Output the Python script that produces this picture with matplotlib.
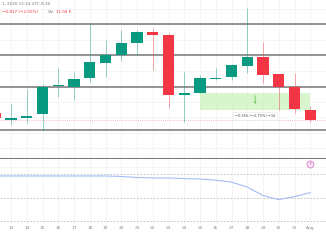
import numpy as np
import matplotlib.pyplot as plt
from matplotlib.patches import Rectangle

# daily candles, day of month (32 = Aug 1)
days = [12, 13, 14, 15, 16, 17, 18, 19, 20, 21, 22, 23, 24, 25, 26, 27, 28, 29, 30, 31, 32]
opens = [17.57, 17.30, 17.38, 17.53, 18.60, 18.57, 18.92, 19.50, 19.81, 20.27, 20.69,
         20.58, 18.28, 18.34, 18.88, 18.96, 19.38, 19.73, 19.07, 18.57, 17.68]
highs = [17.68, 17.92, 18.49, 18.69, 19.31, 19.15, 21.00, 20.39, 20.77, 20.77, 20.85,
         20.66, 19.15, 19.04, 19.31, 19.46, 21.62, 20.31, 19.07, 19.11, 17.84]
lows = [17.26, 17.10, 17.18, 16.91, 18.19, 18.07, 18.76, 18.96, 19.58, 19.81, 19.23,
        17.76, 17.22, 18.34, 18.84, 18.84, 19.11, 18.73, 17.68, 17.57, 17.22]
closes = [17.38, 17.38, 17.45, 18.57, 18.62, 18.88, 19.54, 19.81, 20.27, 20.69, 20.58,
          18.26, 18.30, 18.92, 18.92, 19.42, 19.73, 19.04, 18.57, 17.72, 17.30]

levels = [21.00, 19.81, 18.57, 16.91]
last_price = 17.30
box_days = (25, 32)
box_prices = (17.68, 18.34)

ind_days = [12, 13, 19, 20, 21, 22, 23, 24, 25, 26, 27, 28, 29, 30, 31, 32]
ind_vals = [68.3, 68.3, 68.3, 67.9, 67.0, 66.6, 66.6, 66.1, 65.7, 64.8, 63.1, 58.9,
            51.7, 48.3, 50.8, 54.2]
ind_levels = [70, 50, 30]

tick_days = list(range(13, 33))
tick_labels = [str(d) for d in range(13, 32)] + ['Aug']

green = '#089981'
red = '#f23645'

W, H = 326, 245
fig = plt.figure(figsize=(3.26, 2.45), dpi=100)
ax = fig.add_axes([0, (H - 159) / H, 1, 159 / H])
ax2 = fig.add_axes([0, (H - 224) / H, 1, 65 / H])

xlim = (12.30, 33.0)
for a in (ax, ax2):
    a.set_xlim(*xlim)
    for s in ['top', 'left', 'right']:
        a.spines[s].set_visible(False)
    for d in tick_days:
        a.axvline(d, color='#f2f2f2', lw=0.6, zorder=0)

ax.set_ylim(15.79, 21.93)
for p in np.arange(16.2, 21.9, 0.6):
    ax.axhline(p, color='#f4f4f4', lw=0.6, zorder=0)
ax.spines['bottom'].set_color('#7a7a7a')
ax.spines['bottom'].set_linewidth(1.5)
ax.set_xticks([])
ax.set_yticks([])

for lv in levels:
    ax.axhline(lv, color='#8a8a8a', lw=1.3, zorder=1)
ax.axhline(last_price, color='#f5a0aa', lw=0.6, ls=(0, (1, 1.5)), zorder=1)

ax.add_patch(Rectangle((box_days[0], box_prices[0]), box_days[1] - box_days[0],
                       box_prices[1] - box_prices[0], facecolor='#c9f2b8',
                       edgecolor='none', alpha=0.7, zorder=1))
ax.annotate('', xy=(28.5, box_prices[0] + 0.12), xytext=(28.5, box_prices[1]),
            arrowprops=dict(arrowstyle='->', color='#6fcf5c', lw=0.7, mutation_scale=3),
            zorder=2)
ax.text(28.5, 17.45, '\u22120.656 (\u22123.79%) \u221216', fontsize=2.6, color='#555555',
        ha='center', va='center', zorder=4,
        bbox=dict(boxstyle='square,pad=0.6', fc='white', ec='#e6e6e6', lw=0.4))

bw = 0.72
for d, o, h, l, c in zip(days, opens, highs, lows, closes):
    col = green if c >= o else red
    ax.vlines(d, l, h, color=col, lw=0.6, alpha=0.5, zorder=2)
    lo, hi = min(o, c), max(o, c)
    ax.add_patch(Rectangle((d - bw / 2, lo), bw, max(hi - lo, 0.04),
                           facecolor=col, edgecolor='none', zorder=3))

fig.text(2 / W, 1 - 4 / H, '1, 2020 12:14 UTC-8:30', fontsize=3, color='#777777',
         va='center')
fig.text(2 / W, 1 - 12 / H, '\u22120.817 (\u22122.55%)', fontsize=3, color=red, va='center')
fig.text(48 / W, 1 - 12 / H, 'Vol', fontsize=3, color='#777777', va='center')
fig.text(56 / W, 1 - 12 / H, '11.94 K', fontsize=3, color=red, va='center')

ax2.set_ylim(27.6, 82.7)
ax2.spines['bottom'].set_visible(False)
ax2.set_yticks([])
ax2.axhline(75.6, color='#f4f4f4', lw=0.6, zorder=0)
for lv in ind_levels:
    ax2.axhline(lv, color='#bdbdbd', lw=0.6, ls=(0, (2, 2)), zorder=1)
ax2.plot(ind_days, ind_vals, color='#a3bdf7', lw=0.8, zorder=2)
ax2.plot([32], [78.5], marker='o', ms=5, mfc='#fbe6f6', mec='#d57ac6', mew=0.6,
         zorder=3)
ax2.text(32, 78.5, 'F', fontsize=2.5, color='#c040a8', ha='center', va='center',
         zorder=4)
ax2.set_xticks(tick_days)
ax2.set_xticklabels(tick_labels, fontsize=3.2, color='#888888')
ax2.tick_params(axis='x', length=0, pad=1.5)

fig.savefig('out.png', dpi=100, facecolor='white')
